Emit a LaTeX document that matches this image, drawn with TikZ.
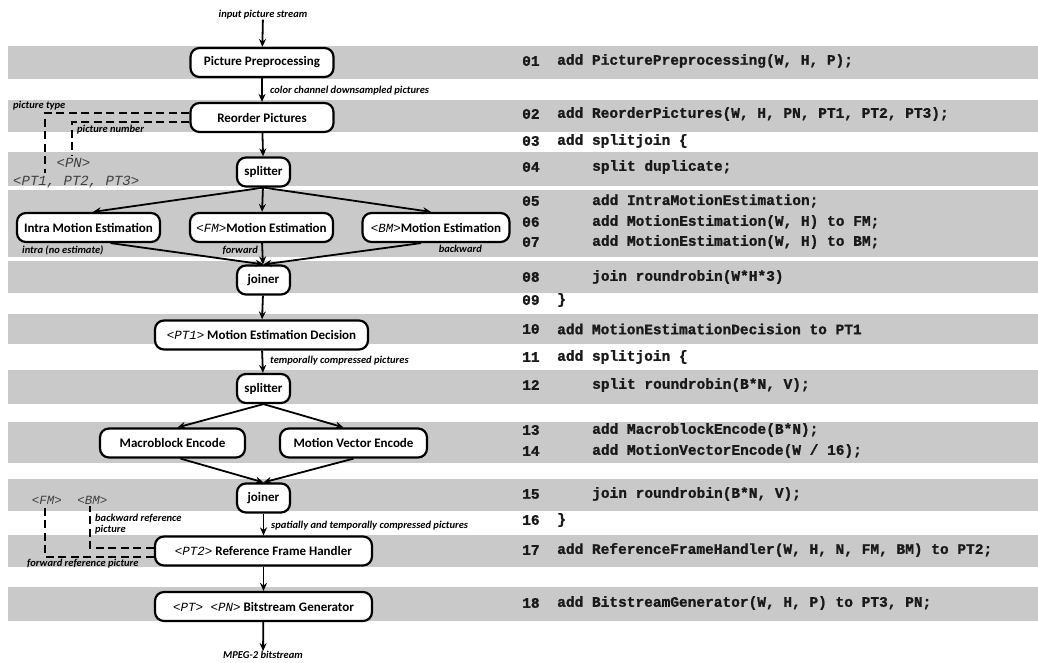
\documentclass[tikz,border=0pt]{standalone}
\usepackage{fontspec}
\setmainfont{Carlito}
\newfontfamily\codefont{Liberation Mono}[BoldFeatures={FakeBold=1.2}]
\usetikzlibrary{arrows.meta,calc}
\definecolor{band}{gray}{0.79}
\definecolor{ink}{gray}{0.10}
\newcommand\tg[1]{{\codefont\itshape\mdseries\fontsize{12.5}{14}\selectfont #1}}
\tikzset{
  box/.style={draw, line width=2.2pt, rounded corners=9pt, fill=white,
    minimum height=29pt, inner sep=2pt,
    font=\bfseries\fontsize{13}{15}\selectfont},
  flow/.style={line width=1.8pt, -{Stealth[length=8pt,width=7pt]}},
  dsh/.style={line width=2.2pt, dash pattern=on 8pt off 4.5pt},
  lab/.style={inner sep=0pt, font=\bfseries\itshape\fontsize{10.5}{10.5}\selectfont},
  tagl/.style={inner sep=0pt, text=black!75, font=\codefont\itshape\fontsize{14}{15}\selectfont},
  code/.style={anchor=west, inner sep=0pt, text=ink, font=\codefont\bfseries\fontsize{14.5}{16}\selectfont},
}
\begin{document}
\begin{tikzpicture}[x=1pt, y=-1pt]
\useasboundingbox (0,0) rectangle (1038,662);
\fill[white] (0,0) rectangle (1038,662);

% shaded stripes behind each statement
\foreach \ya/\yb in {46/79, 100/132, 152/186, 190/257, 261/293, 314/344,
                     370/404, 422/463, 479/511, 535/567, 587/621}
  \fill[band] (8,\ya) rectangle (1038,\yb);

% program listing
\foreach \y/\n/\x/\t [count=\i] in {
   61/01/557/{add PicturePreprocessing(W, H, P);},
  114/02/557/{add ReorderPictures(W, H, PN, PT1, PT2, PT3);},
  141/03/557/{add splitjoin \{},
  167/04/592/{split duplicate;},
  201/05/592/{add IntraMotionEstimation;},
  222/06/592/{add MotionEstimation(W, H) to FM;},
  242/07/592/{add MotionEstimation(W, H) to BM;},
  277/08/592/{join roundrobin(W*H*3)},
  300/09/557/{\}},
  329/10/557/{add MotionEstimationDecision to PT1},
  357/11/557/{add splitjoin \{},
  385/12/592/{split roundrobin(B*N, V);},
  430/13/592/{add MacroblockEncode(B*N);},
  451/14/592/{add MotionVectorEncode(W / 16);},
  494/15/592/{join roundrobin(B*N, V);},
  520/16/557/{\}},
  550/17/557/{add ReferenceFrameHandler(W, H, N, FM, BM) to PT2;},
  603/18/557/{add BitstreamGenerator(W, H, P) to PT3, PN;}}
{
  \node[code] (num\i) at (522,\y) {\n};
  \node[code] (stmt\i) at (\x,\y) {\t};
}

% stream graph
\node[box, minimum width=143pt] (pp)  at (262,62.5)  {Picture Preprocessing};
\node[box, minimum width=143pt] (ro)  at (262,117.5) {Reorder Pictures};
\node[box, minimum width=53pt]  (sp1) at (263.5,172) {splitter};
\node[box, minimum width=143pt] (ime) at (88.5,227.5) {Intra Motion Estimation};
\node[box, minimum width=143pt] (fme) at (261.5,227.5) {\tg{<FM>}Motion Estimation};
\node[box, minimum width=147pt] (bme) at (436,227.5) {\tg{<BM>}Motion Estimation};
\node[box, minimum width=53pt]  (j1)  at (263.5,280) {joiner};
\node[box, minimum width=213pt] (med) at (261.5,335) {\tg{<PT1>} Motion Estimation Decision};
\node[box, minimum width=53pt]  (sp2) at (263.5,388.5) {splitter};
\node[box, minimum width=145pt] (mbe) at (172.5,443) {Macroblock Encode};
\node[box, minimum width=147pt] (mve) at (353.5,443) {Motion Vector Encode};
\node[box, minimum width=53pt]  (j2)  at (263.5,498) {joiner};
\node[box, minimum width=217pt] (rfh) at (263.5,551) {\tg{<PT2>} Reference Frame Handler};
\node[box, minimum width=217pt] (bg)  at (263.5,606.5) {\tg{<PT> <PN>} Bitstream Generator};

% stream labels
\node[lab] (in)  at (263,15)  {input picture stream};
\node[lab] (out) at (263,655) {MPEG-2 bitstream};
\node[lab, anchor=west] (lcc) at (270,91)  {color channel downsampled pictures};
\node[lab, anchor=west] (ltc) at (270,361) {temporally compressed pictures};
\node[lab, anchor=west] (lst) at (271,526) {spatially and temporally compressed pictures};
\node[lab, anchor=west] (lin) at (22,250)  {intra (no estimate)};
\node[lab, anchor=east] (lfw) at (258,250) {forward};
\node[lab, anchor=east] (lbw) at (482,249) {backward};

% main flow
\draw[flow] (in) -- (pp);
\draw[flow] (pp) -- (ro);
\draw[flow] (ro) -- (sp1);
\draw[flow] (sp1.south) -- ([xshift=4.5pt]ime.north);
\draw[flow] (sp1) -- (fme);
\draw[flow] (sp1.south) -- ([xshift=-5pt]bme.north);
\draw[flow] ([xshift=22pt]ime.south) -- (j1.north);
\draw[flow] (fme) -- (j1);
\draw[flow] ([xshift=-15pt]bme.south) -- (j1.north);
\draw[flow] (j1) -- (med);
\draw[flow] (med) -- (sp2);
\draw[flow] (sp2.south) -- ([xshift=5pt]mbe.north);
\draw[flow] (sp2.south) -- ([xshift=-10pt]mve.north);
\draw[flow] ([xshift=8pt]mbe.south) -- (j2.north);
\draw[flow] (mve.south) -- (j2.north);
\draw[flow] (j2) -- (rfh);
\draw[flow] (rfh) -- (bg);
\draw[flow] (bg) -- (out);

% picture type / number outputs of the reorder filter
\node[tagl, anchor=west] (pts) at (13,182) {<PT1, PT2, PT3>};
\node[tagl] (pn) at (73.5,163) {<PN>};
\node[lab, anchor=west] (lpt) at (13,106) {picture type};
\node[lab, anchor=west] (lpn) at (77,130) {picture number};
\coordinate (ptc) at (45,113);
\coordinate (pnc) at (72,122);
\draw[dsh] (ro.west |- ptc) -- (ptc) -- ([yshift=3pt]ptc |- pts.north);
\draw[dsh] (ro.west |- pnc) -- (pnc) -- ([yshift=3pt]pnc |- pn.north);

% reference pictures kept by the frame handler
\node[tagl, font=\codefont\itshape\fontsize{12.5}{14}\selectfont] (fm) at (47,500) {<FM>};
\node[tagl, font=\codefont\itshape\fontsize{12.5}{14}\selectfont] (bm) at (92.5,500) {<BM>};
\node[lab, anchor=north west, align=left] (lbr) at (95,514) {backward reference\\picture};
\node[lab, anchor=west] (lfr) at (27,564) {forward reference picture};
\coordinate (fmc) at (45,557);
\coordinate (bmc) at (90,548);
\draw[dsh] (rfh.west |- bmc) -- (bmc) -- ([yshift=-2pt]bmc |- bm.south);
\draw[dsh] (rfh.west |- fmc) -- (fmc) -- ([yshift=-2pt]fmc |- fm.south);
\end{tikzpicture}
\end{document}
